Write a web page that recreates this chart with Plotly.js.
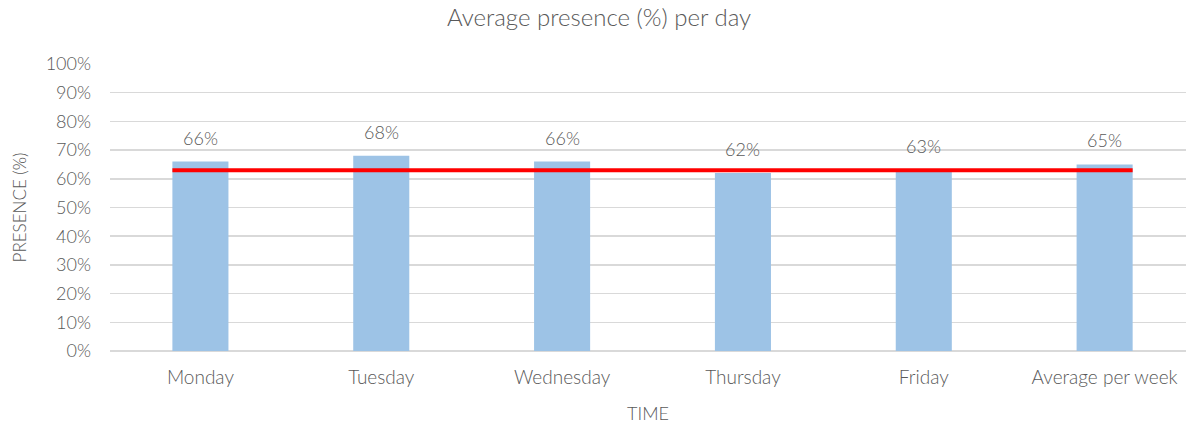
<!DOCTYPE html>
<html>
<head>
<meta charset="utf-8">
<script src="https://cdn.plot.ly/plotly-3.0.1.min.js"></script>
<style>html,body{margin:0;padding:0;background:#fff;}#chart{width:1186px;height:426px;}</style>
</head>
<body>
<div id="chart"></div>
<script>
const categories = ["Monday", "Tuesday", "Wednesday", "Thursday", "Friday", "Average per week"];
const presence = [66, 68, 66, 62, 63, 65];
const labels = ["66%", "68%", "66%", "62%", "63%", "65%"];
const referenceLine = 63;
const yTicks = [0, 10, 20, 30, 40, 50, 60, 70, 80, 90, 100];
const yTickLabels = ["0%", "10%", "20%", "30%", "40%", "50%", "60%", "70%", "80%", "90%", "100%"];

const FONT = "Lato, 'Open Sans', sans-serif";
const TXT = "#595959";
const bargap = 0.69;
const halfBar = (1 - bargap) / 2;
const xRange = [-0.5, 5.45];

const idx = categories.map((c, i) => i);

const bars = {
  type: "bar",
  x: categories,
  y: presence,
  marker: {color: "#9dc3e6"},
  hoverinfo: "x+y",
  showlegend: false
};

const refLine = {
  type: "scatter",
  mode: "lines",
  xaxis: "x2",
  x: [idx[0] - halfBar, idx[idx.length - 1] + halfBar],
  y: [referenceLine, referenceLine],
  line: {color: "#ff0000", width: 4},
  hoverinfo: "y",
  showlegend: false
};

const annotations = categories.map((c, i) => ({
  x: c, y: presence[i], xref: "x", yref: "y",
  text: labels[i], showarrow: false,
  yanchor: "middle", yshift: 24,
  font: {family: FONT, size: 18, color: TXT, weight: 300}
}));

const layout = {
  width: 1186, height: 426,
  margin: {l: 110, r: 0, t: 64, b: 75},
  paper_bgcolor: "#fff", plot_bgcolor: "#fff",
  bargap: bargap,
  title: {
    text: "Average presence (%) per day",
    x: 599 / 1186, xanchor: "center", xref: "container",
    y: 1 - 18 / 426, yanchor: "middle", yref: "container",
    font: {family: FONT, size: 24, color: TXT, weight: 300}
  },
  xaxis: {
    type: "category",
    range: xRange,
    showgrid: false, zeroline: false,
    showline: false, ticks: "",
    ticklabelstandoff: 13,
    tickfont: {family: FONT, size: 19, color: TXT, weight: 300},
    title: {text: "TIME", standoff: 20, font: {family: FONT, size: 18, color: TXT, weight: 300}},
    automargin: false
  },
  xaxis2: {
    overlaying: "x", range: xRange, visible: false, type: "linear"
  },
  yaxis: {
    range: [0, 100],
    tickvals: yTicks, ticktext: yTickLabels,
    showgrid: true, gridcolor: "#d9d9d9", gridwidth: 1.5,
    zeroline: true, zerolinecolor: "#d9d9d9", zerolinewidth: 1.5,
    showline: false, ticks: "",
    ticklabelstandoff: 18,
    tickfont: {family: FONT, size: 18, color: TXT, weight: 300},
    title: {text: "PRESENCE (%)", standoff: 14, font: {family: FONT, size: 17, color: TXT, weight: 300}},
    automargin: false,
    fixedrange: true
  },
  annotations: annotations
};

Plotly.newPlot("chart", [bars, refLine], layout, {displayModeBar: false, staticPlot: true});
</script>
</body>
</html>
